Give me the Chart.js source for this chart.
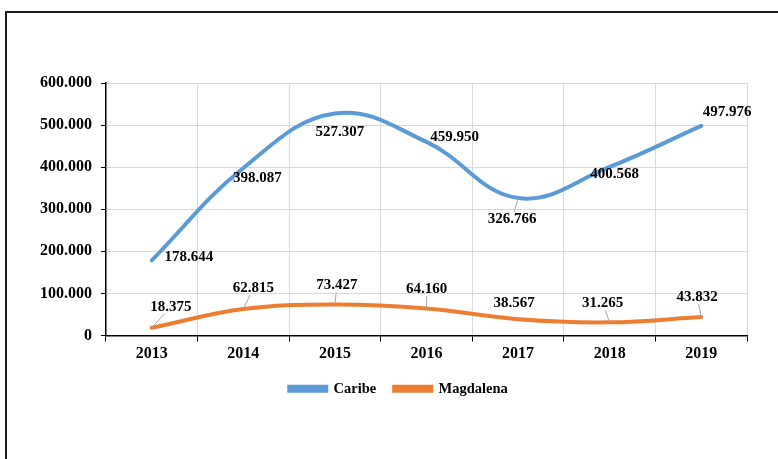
<!DOCTYPE html>
<html>
  <head>
    <meta charset="utf-8"/>
    <style>
      body { margin: 0; background: #fff; }
      #frame { position: absolute; left: 5px; top: 11px; width: 900px; height: 600px; border: 2px solid #1a1a1a; }
      #chart { position: absolute; left: 0; top: 0; }
    </style>
  </head>
  <body>
    <div id="frame"></div>
    <canvas id="chart" width="778" height="459"></canvas>

    <script src="https://cdn.jsdelivr.net/npm/chart.js@4.4.1/dist/chart.umd.min.js"></script>
    <script>
        var years = ['2013', '2014', '2015', '2016', '2017', '2018', '2019'];
        var caribe = [178644, 398087, 527307, 459950, 326766, 400568, 497976];
        var magdalena = [18375, 62815, 73427, 64160, 38567, 31265, 43832];
        var yTicks = [0, 100000, 200000, 300000, 400000, 500000, 600000];

        var serif = '"Liberation Serif", "Times New Roman", serif';

        // 600000 -> "600.000"
        var fmt = function(v) {
            return String(v).replace(/\B(?=(\d{3})+(?!\d))/g, '.');
        };

        // label offsets from each point: [dx, dy, leader line?]
        var labelOffsets = [
            [[37, -3, 0], [14, 10, 0], [5, 19, 0], [28, -5, 0], [-6, 21, 1], [5, 7, 0], [26, -14, 0]],
            [[19, -21, 1], [10, -21, 1], [2, -19, 1], [0, -19, 1], [-4, -16, 0], [-7, -19, 1], [-4, -20, 1]]
        ];

        var valueLabels = {
            id: 'valueLabels',
            afterLayout: function(chart) {
                // legend sits a bit right of the canvas centre
                chart.legend.left += 25;
                chart.legend.right += 25;
            },
            afterDatasetsDraw: function(chart) {
                var ctx = chart.ctx;
                ctx.save();
                ctx.font = 'bold 15px ' + serif;
                ctx.textAlign = 'center';
                ctx.textBaseline = 'middle';
                chart.data.datasets.forEach(function(ds, di) {
                    var meta = chart.getDatasetMeta(di);
                    meta.data.forEach(function(pt, i) {
                        var off = labelOffsets[di][i];
                        var text = fmt(ds.data[i]);
                        var cx = pt.x + off[0], cy = pt.y + off[1];
                        if (off[2]) {
                            var hw = ctx.measureText(text).width / 2 + 1, hh = 7;
                            var dx = pt.x - cx, dy = pt.y - cy;
                            var s = Math.min(dx ? hw / Math.abs(dx) : 99, dy ? hh / Math.abs(dy) : 99);
                            if (s < 1) {
                                ctx.strokeStyle = '#a6a6a6';
                                ctx.lineWidth = 1;
                                ctx.beginPath();
                                ctx.moveTo(pt.x, pt.y);
                                ctx.lineTo(cx + s * dx, cy + s * dy);
                                ctx.stroke();
                            }
                        }
                        ctx.fillStyle = '#000';
                        ctx.fillText(text, cx, cy);
                    });
                });
                ctx.restore();
            }
        };

        var ctx = document.getElementById('chart').getContext('2d');
        var chart = new Chart(ctx, {
            type: 'line',
            data: {
                labels: years,
                datasets: [{
                    label: 'Caribe',
                    data: caribe,
                    borderColor: '#5b9bd5',
                    backgroundColor: '#5b9bd5',
                    borderWidth: 4,
                    borderCapStyle: 'round',
                    tension: 0.4,
                    pointRadius: 0
                }, {
                    label: 'Magdalena',
                    data: magdalena,
                    borderColor: '#ed7d31',
                    backgroundColor: '#ed7d31',
                    borderWidth: 4,
                    borderCapStyle: 'round',
                    tension: 0.4,
                    pointRadius: 0
                }]
            },
            options: {
                responsive: false,
                animation: false,
                devicePixelRatio: 1,
                layout: { padding: { top: 83, left: 0, right: 31, bottom: 53 } },
                plugins: {
                    tooltip: { enabled: false },
                    legend: {
                        position: 'bottom',
                        labels: {
                            color: '#000',
                            font: { family: serif, size: 14.5, weight: 'bold' },
                            boxWidth: 37,
                            boxHeight: 4,
                            padding: 18
                        }
                    }
                },
                scales: {
                    x: {
                        offset: true,
                        grid: { offset: true, color: '#d9d9d9', tickColor: '#000', tickLength: 6 },
                        border: { color: '#000', width: 1.5 },
                        ticks: { color: '#000', padding: 3, font: { family: serif, size: 16, weight: 'bold' } },
                        afterFit: function(scale) { scale.height = 28; }
                    },
                    y: {
                        min: 0,
                        max: 600000,
                        afterBuildTicks: function(scale) {
                            scale.ticks = yTicks.map(function(v) { return { value: v }; });
                        },
                        grid: { color: '#d9d9d9', tickColor: '#000', tickLength: 5 },
                        border: { color: '#000', width: 1.5 },
                        ticks: {
                            color: '#000',
                            padding: 9,
                            font: { family: serif, size: 16, weight: 'bold' },
                            callback: function(v) { return fmt(v); }
                        },
                        afterFit: function(scale) { scale.width = 106; }
                    }
                }
            },
            plugins: [valueLabels]
        });
    </script>
  </body>
</html>
